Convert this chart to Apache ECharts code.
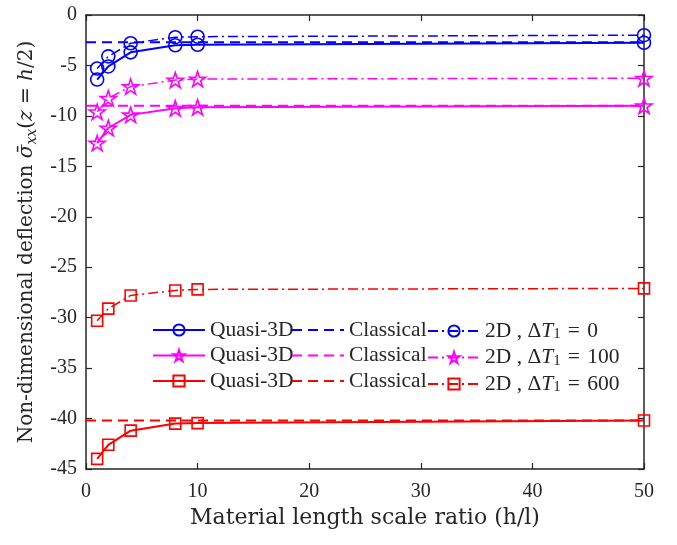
<!DOCTYPE html>
<html><head><meta charset="utf-8">
<script src="https://cdn.jsdelivr.net/npm/echarts@6/dist/echarts.min.js"></script>
<style>html,body{margin:0;padding:0;background:#fff}#c{width:677px;height:545px}</style>
</head><body><div id="c"></div>
<script>
// ---- data ----
const ratios = [1, 2, 4, 8, 10, 50];
const classicalRange = [0, 50];
const quasi3D_T0   = [-6.4, -5.1, -3.7, -3.0, -2.95, -2.75];
const twoD_T0      = [-5.3, -4.1, -2.8, -2.2, -2.15, -2.0];
const classical_T0 = -2.7;
const quasi3D_T100   = [-12.7, -11.2, -9.9, -9.25, -9.15, -9.0];
const twoD_T100      = [-9.6, -8.25, -7.1, -6.45, -6.35, -6.27];
const classical_T100 = -9.0;
const quasi3D_T600   = [-44.0, -42.6, -41.2, -40.5, -40.45, -40.2];
const twoD_T600      = [-30.3, -29.1, -27.8, -27.3, -27.2, -27.1];
const classical_T600 = -40.2;
const deltaT = ['0', '100', '600'];
const xTickInterval = 10, yTickInterval = 5;

// ---- styling ----
const FONT = 'Liberation Serif';
const TFONT = 'DejaVu Serif';
const colors = ['#0000ff', '#ff00ff', '#ff0000'];
const STAR = 'path://M0,-10L2.245,-3.09L9.51,-3.09L3.633,1.18L5.878,8.09L0,3.82L-5.878,8.09L-3.633,1.18L-9.51,-3.09L-2.245,-3.09Z';
const symbols = ['circle', STAR, 'rect'];
const symSizes = [13, 16, 11];
const AX = '#262626';
const TXT = '#262626';

const groups = [
  {q: quasi3D_T0, d: twoD_T0, c: classical_T0},
  {q: quasi3D_T100, d: twoD_T100, c: classical_T100},
  {q: quasi3D_T600, d: twoD_T600, c: classical_T600}
];

const labelMap = {};
const series = [];
const legCols = [[], [], []];
groups.forEach((g, i) => {
  const col = colors[i];
  const nQ = 'Quasi-3D#' + i, nC = 'Classical#' + i, nD = '2D#' + i;
  labelMap[nQ] = 'Quasi-3D';
  labelMap[nC] = 'Classical';
  labelMap[nD] = '2D , {d|Δ}{i|T}{s|1}\u2004=\u2004' + deltaT[i];
  legCols[0].push(nQ); legCols[1].push(nC); legCols[2].push(nD);
  series.push({
    name: nQ, type: 'line', data: ratios.map((x, k) => [x, g.q[k]]),
    symbol: symbols[i], symbolSize: symSizes[i], symbolKeepAspect: true,
    lineStyle: {color: col, width: 2, type: 'solid'},
    itemStyle: {color: 'rgba(0,0,0,0)', borderColor: col, borderWidth: 1.6},
    z: 3
  });
  series.push({
    name: nC, type: 'line', data: classicalRange.map(x => [x, g.c]),
    symbol: 'none',
    lineStyle: {color: col, width: 2, type: [10, 6]},
    itemStyle: {color: 'rgba(0,0,0,0)', borderWidth: 0},
    z: 2
  });
  series.push({
    name: nD, type: 'line', data: ratios.map((x, k) => [x, g.d[k]]),
    symbol: symbols[i], symbolSize: symSizes[i], symbolKeepAspect: true,
    lineStyle: {color: col, width: 1.5, type: [10, 4, 2, 4]},
    itemStyle: {color: 'rgba(0,0,0,0)', borderColor: col, borderWidth: 1.6},
    z: 3
  });
});

const LFS = 21.5;
const richLeg = {
  d: {fontFamily: FONT, fontSize: LFS, color: TXT, lineHeight: 22},
  i: {fontFamily: FONT, fontSize: LFS, fontStyle: 'italic', color: TXT, lineHeight: 22},
  s: {fontFamily: FONT, fontSize: 15, color: TXT, verticalAlign: 'bottom', lineHeight: 22, padding: [8, 0, 0, 0]}
};
const legendLefts = [152, 291, 427];
const legends = legCols.map((data, j) => ({
  orient: 'vertical', left: legendLefts[j], top: 319, padding: 0,
  data: data, itemWidth: 52, itemHeight: 14, itemGap: 3.5,
  formatter: n => labelMap[n],
  textStyle: {fontFamily: FONT, fontSize: LFS, color: TXT, lineHeight: 22, rich: richLeg},
  selectedMode: false
}));

const axisBase = {
  axisLine: {show: true, onZero: false, lineStyle: {color: AX, width: 1.5}},
  axisTick: {show: true, inside: true, length: 6, lineStyle: {color: AX, width: 1.2}},
  splitLine: {show: false}
};

const option = {
  backgroundColor: '#fff',
  animation: false,
  grid: {left: 86, right: 33, top: 15, bottom: 76},
  legend: legends,
  xAxis: [
    Object.assign({}, axisBase, {
      type: 'value', min: 0, max: 50, interval: xTickInterval, position: 'bottom',
      axisLabel: {fontFamily: FONT, fontSize: 20, color: TXT, margin: 13},
      name: 'Material length scale ratio (h/l)', nameLocation: 'middle', nameGap: 38,
      nameTextStyle: {fontFamily: TFONT, fontSize: 22, color: TXT}
    }),
    Object.assign({}, axisBase, {
      type: 'value', min: 0, max: 50, interval: xTickInterval, position: 'top',
      axisLabel: {show: false}
    })
  ],
  yAxis: [
    Object.assign({}, axisBase, {
      type: 'value', min: -45, max: 0, interval: yTickInterval, position: 'left',
      axisLabel: {fontFamily: FONT, fontSize: 20, color: TXT, margin: 9},
      name: 'Non-dimensional deflection {i|σ̄}{s|xx}({i|z} = {i|h}/2)',
      nameLocation: 'middle', nameGap: 47,
      nameTextStyle: {fontFamily: TFONT, fontSize: 20, color: TXT, lineHeight: 24,
        rich: {
          i: {fontFamily: TFONT, fontSize: 20, fontStyle: 'italic', color: TXT, lineHeight: 24},
          s: {fontFamily: TFONT, fontSize: 14, fontStyle: 'italic', color: TXT, verticalAlign: 'bottom', lineHeight: 24, padding: [8, 0, 0, 0]}
        }}
    }),
    Object.assign({}, axisBase, {
      type: 'value', min: -45, max: 0, interval: yTickInterval, position: 'right',
      axisLabel: {show: false}
    })
  ],
  series: series
};
const chart = echarts.init(document.getElementById('c'), null, {renderer: 'canvas'});
chart.setOption(option);
</script></body></html>
